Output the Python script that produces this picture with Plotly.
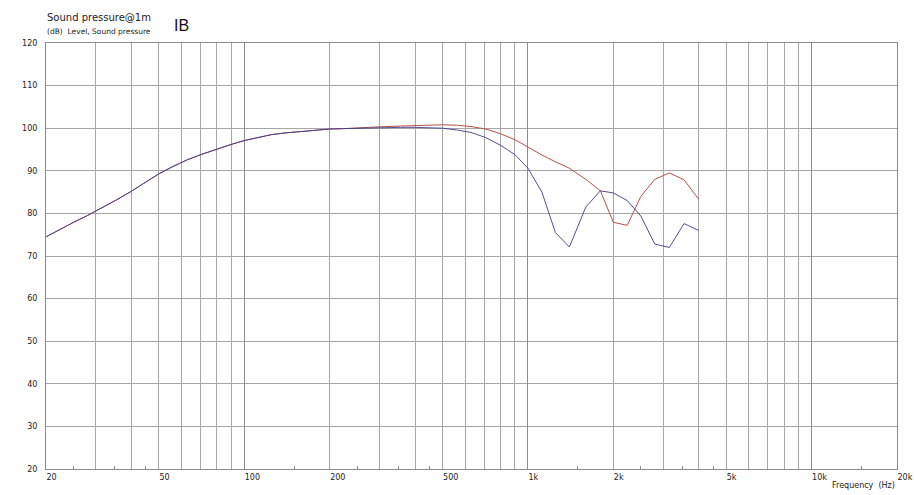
import plotly.graph_objects as go

freq_hz = [20, 22.4, 25, 28, 31.5, 35.5, 40, 45, 50, 56, 63, 71, 80, 90, 100, 112, 125, 140,
           160, 180, 200, 224, 250, 280, 315, 355, 400, 450, 500, 560, 630, 710, 800, 900,
           1000, 1120, 1250, 1400, 1600, 1800, 2000, 2240, 2500, 2800, 3150, 3550, 4000]

spl_blue = [74.5, 76.3, 77.9, 79.5, 81.3, 83.2, 85.2, 87.3, 89.3, 91.0, 92.6, 93.9, 95.1, 96.2,
            97.1, 97.9, 98.5, 98.9, 99.3, 99.6, 99.8, 99.9, 100.0, 100.1, 100.2, 100.2, 100.2,
            100.1, 100.0, 99.6, 99.0, 97.8, 96.0, 93.8, 90.6, 85.0, 75.5, 72.1, 81.5, 85.3,
            84.8, 83.0, 79.4, 72.8, 72.0, 77.6, 76.0]

spl_red = [74.5, 76.3, 77.9, 79.5, 81.3, 83.2, 85.2, 87.3, 89.3, 91.0, 92.6, 93.9, 95.1, 96.2,
           97.1, 97.9, 98.5, 98.9, 99.3, 99.6, 99.8, 99.9, 100.1, 100.3, 100.4, 100.5, 100.6,
           100.7, 100.8, 100.7, 100.4, 99.8, 98.7, 97.3, 95.5, 93.7, 92.1, 90.6, 88.0, 85.3,
           77.9, 77.2, 84.0, 88.0, 89.5, 87.9, 83.3]

grid_freqs = [m * d for d in (10, 100, 1000, 10000) for m in range(1, 10)] + [20000]
grid_freqs = [f for f in grid_freqs if 20 <= f <= 20000]
label_map = {20: "20", 50: "50", 100: "100", 200: "200", 500: "500", 1000: "1k",
             2000: "2k", 5000: "5k", 10000: "10k", 20000: "20k"}
grid_text = [label_map.get(f, "") for f in grid_freqs]
minor_freqs = [m * d for d in (10, 100, 1000, 10000) for m in (1.5, 2.5, 3.5, 4.5)]
minor_freqs = [f for f in minor_freqs if 20 < f < 20000]
decade_freqs = [100, 1000, 10000]

y_ticks = list(range(20, 121, 10))

FONT = "DejaVu Sans"
GRID = "#a6a6a6"

fig = go.Figure()
fig.add_trace(go.Scatter(x=freq_hz, y=spl_red, mode="lines",
                         line=dict(color="#b8504a", width=1), xaxis="x", yaxis="y",
                         showlegend=False, hoverinfo="x+y"))
fig.add_trace(go.Scatter(x=freq_hz, y=spl_blue, mode="lines",
                         line=dict(color="#3e3e8e", width=1), opacity=0.9,
                         xaxis="x2", yaxis="y", showlegend=False, hoverinfo="x+y"))

xrange = [1.30103, 4.30103]
fig.update_layout(
    width=914, height=495, autosize=False,
    margin=dict(l=46, r=17, t=43, b=26, pad=0),
    paper_bgcolor="white", plot_bgcolor="white",
    font=dict(family=FONT, size=8, color="#222222"),
    xaxis=dict(type="log", range=xrange, tickmode="array", tickvals=grid_freqs,
               ticktext=grid_text, ticks="", showgrid=True, gridcolor=GRID, gridwidth=1,
               showline=True, linecolor="#8a8a8a", linewidth=1, mirror=True,
               zeroline=False, ticklabelposition="outside right", automargin=False,
               tickfont=dict(family=FONT, size=8, color="#222222"),
               minor=dict(tickmode="array", tickvals=minor_freqs, ticks="inside",
                          ticklen=3, tickcolor="#8a8a8a", showgrid=False)),
    xaxis2=dict(type="log", range=xrange, overlaying="x", anchor="y", tickmode="array",
                tickvals=decade_freqs, showticklabels=False, ticks="", showgrid=True,
                gridcolor="#8c8c8c", gridwidth=1, showline=False, zeroline=False,
                automargin=False),
    yaxis=dict(range=[20, 120], tickmode="array", tickvals=y_ticks, ticks="",
               showgrid=True, gridcolor=GRID, gridwidth=1, showline=True,
               linecolor="#8a8a8a", linewidth=1, mirror=True, zeroline=False,
               automargin=False,
               ticklabelstandoff=6, tickfont=dict(family=FONT, size=8, color="#222222")),
    annotations=[
        dict(text="Sound pressure@1m", xref="paper", yref="paper", x=-0.001, y=1.0,
             xanchor="left", yanchor="bottom", yshift=18, showarrow=False,
             font=dict(family=FONT, size=10, color="#222222")),
        dict(text="(dB)  Level, Sound pressure", xref="paper", yref="paper", x=-0.001,
             y=1.0, xanchor="left", yanchor="bottom", yshift=5, showarrow=False,
             font=dict(family=FONT, size=7.5, color="#222222")),
        dict(text="IB", xref="paper", yref="paper", x=0.148, y=1.0, xanchor="left",
             yanchor="bottom", yshift=7, showarrow=False,
             font=dict(family="Liberation Sans", size=16, color="#111111")),
        dict(text="Frequency  (Hz)", xref="paper", yref="paper", x=1.0, y=0.0,
             xanchor="right", yanchor="top", yshift=-10, showarrow=False,
             font=dict(family=FONT, size=8, color="#222222")),
    ],
)

fig.write_html("out.html", config={"displayModeBar": False},
               post_script="document.body.style.margin='0';document.body.style.overflow='hidden';")
